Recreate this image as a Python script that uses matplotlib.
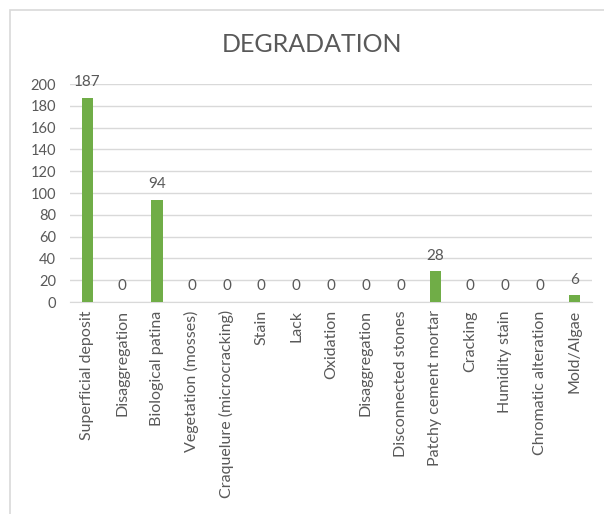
import matplotlib.pyplot as plt
from matplotlib.patches import Rectangle

categories = [
    "Superficial deposit", "Disaggregation", "Biological patina",
    "Vegetation (mosses)", "Craquelure (microcracking)", "Stain", "Lack",
    "Oxidation", "Disaggregation", "Disconnected stones",
    "Patchy cement mortar", "Cracking", "Humidity stain",
    "Chromatic alteration", "Mold/Algae",
]
counts = [187, 0, 94, 0, 0, 0, 0, 0, 0, 0, 28, 0, 0, 0, 6]
yticks = list(range(0, 201, 20))

txt = "#595959"
plt.rcParams["font.family"] = ["Lato", "DejaVu Sans"]

fig = plt.figure(figsize=(6.04, 5.14), dpi=100)
fig.patches.append(Rectangle((10 / 604, -0.1), 1.1, 1 - 10 / 514 + 0.1,
                             transform=fig.transFigure, fill=False,
                             edgecolor="#D9D9D9", linewidth=1.2))

ax = fig.add_axes([70 / 604, 1 - 302 / 514, (592 - 70) / 604, (302 - 84) / 514])
x = range(len(categories))
ax.bar(x, counts, width=0.32, color="#70AD47", zorder=3)
for xi, v in zip(x, counts):
    ax.text(xi, v + 8, str(v), ha="center", va="bottom", fontsize=11, color=txt)

ax.set_xlim(-0.5, len(categories) - 0.5)
ax.set_ylim(0, 200)
ax.set_yticks(yticks)
ax.set_xticks(list(x))
ax.set_xticklabels(categories, rotation=90, fontsize=11.5, color=txt)
ax.tick_params(axis="y", labelsize=10.5, labelcolor=txt, length=0, pad=10)
ax.tick_params(axis="x", length=0, pad=6)
ax.grid(axis="y", color="#D9D9D9", linewidth=1, zorder=0)
for s in ["top", "right", "left"]:
    ax.spines[s].set_visible(False)
ax.spines["bottom"].set_color("#D9D9D9")

fig.text(312 / 604, 1 - 44 / 514, "DEGRADATION", ha="center", va="center",
         fontsize=18, color=txt)

fig.savefig("out.png", dpi=100)
